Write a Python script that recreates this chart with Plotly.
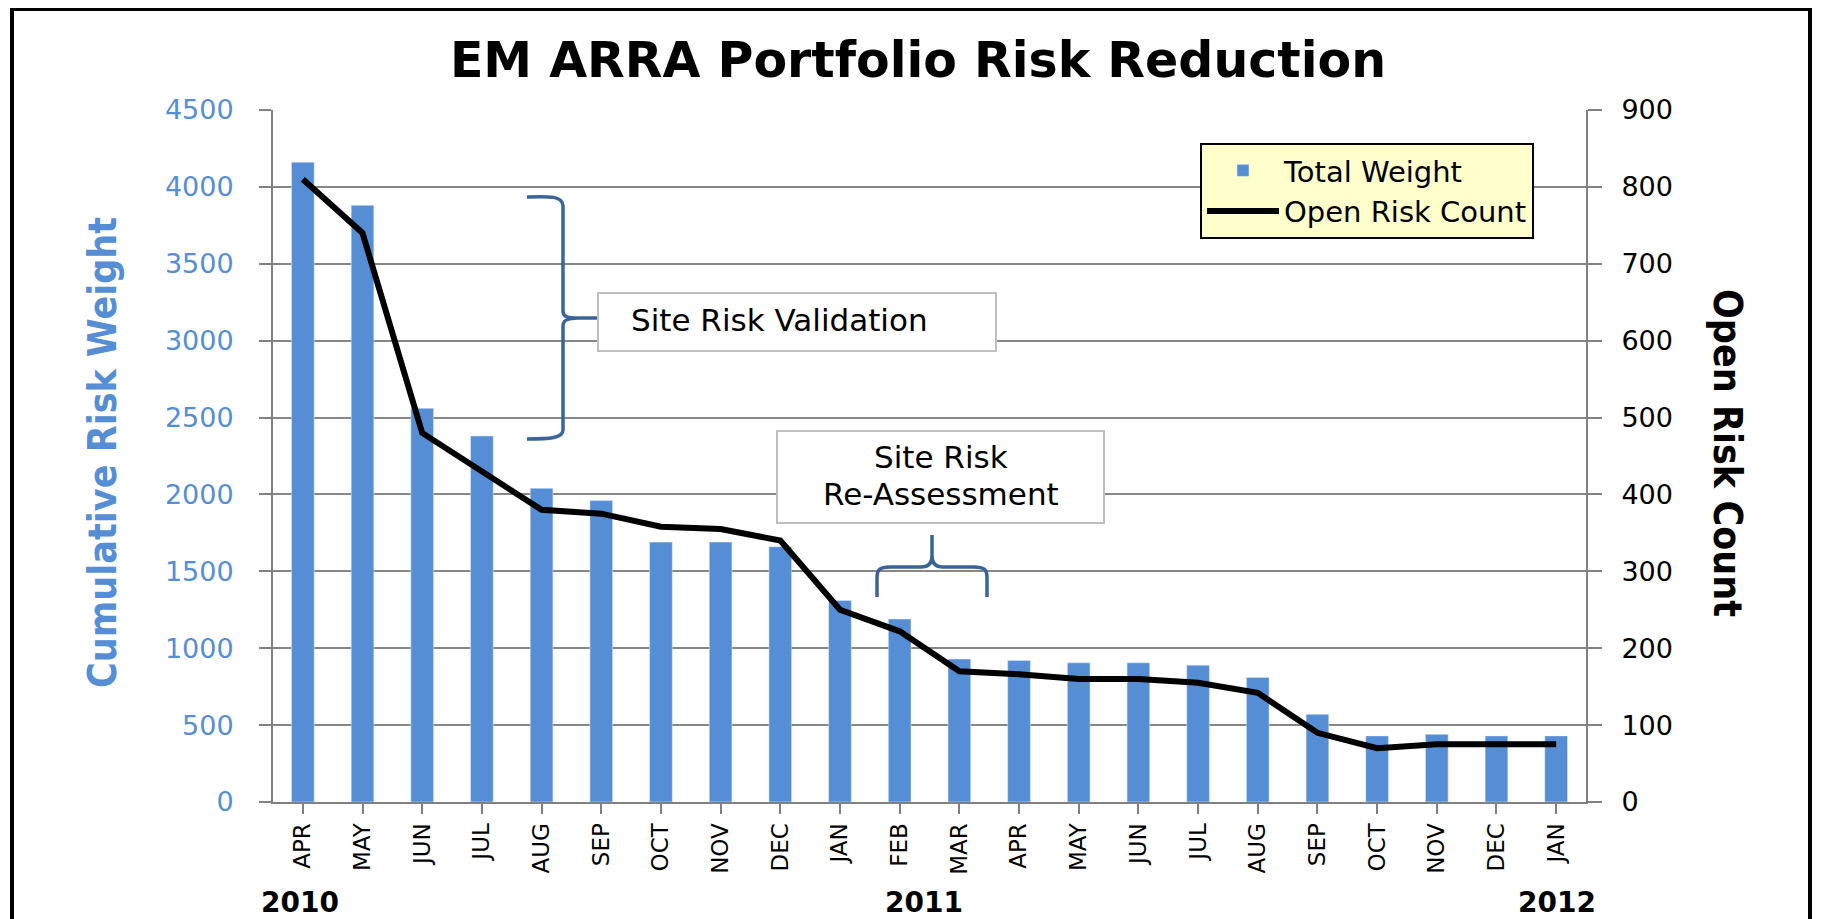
import plotly.graph_objects as go

months = ["APR", "MAY", "JUN", "JUL", "AUG", "SEP", "OCT", "NOV", "DEC", "JAN", "FEB",
          "MAR", "APR", "MAY", "JUN", "JUL", "AUG", "SEP", "OCT", "NOV", "DEC", "JAN"]
total_weight = [4160, 3880, 2560, 2380, 2040, 1960, 1690, 1690, 1660, 1310, 1190,
                930, 920, 905, 905, 890, 810, 570, 430, 440, 430, 430]
open_risk_count = [810, 740, 480, 430, 380, 375, 358, 355, 340, 250, 222,
                   170, 166, 160, 160, 155, 142, 90, 70, 75, 75, 75]
years = ["2010", "2011", "2012"]

OFF = 8  # page body margin
W, H = 1822 - OFF, 919 - OFF
L, R, T, B = 273, 1586, 110, 802  # plot area in screen pixels
BLUE = "#558ED5"
BRACE = "#3A6498"
NARROW = "DejaVu Sans Condensed, Liberation Sans Narrow, Arial Narrow, Roboto Condensed, Roboto, sans-serif"


def px(x):
    return (x - L) / (R - L)


def py(y):
    return (B - y) / (B - T)


def path(cmds):
    out = []
    for c in cmds:
        if isinstance(c, str):
            out.append(c)
        else:
            out.append(f"{px(c[0]):.5f},{py(c[1]):.5f}")
    return " ".join(out)


xs = list(range(len(months)))

fig = go.Figure()
fig.add_trace(go.Bar(x=xs, y=total_weight, name="Total Weight", marker_color=BLUE,
                     width=0.38, yaxis="y"))
fig.add_trace(go.Scatter(x=xs, y=open_risk_count, name="Open Risk Count", mode="lines",
                         line=dict(color="black", width=6), yaxis="y2"))

brace1 = path(["M", (527, 197), "C", (550, 196), (563, 196), (563, 206), "L", (563, 311),
               "C", (563, 317), (568, 318), (578, 318), "L", (598, 318),
               "M", (578, 318), "C", (568, 318), (563, 320), (563, 326), "L", (563, 430),
               "C", (563, 438), (550, 439), (527, 439)])
brace2 = path(["M", (877, 597), "L", (877, 578), "C", (877, 569), (880, 567), (890, 567),
               "L", (921, 567), "C", (929, 567), (932, 563), (932, 556), "L", (932, 535),
               "M", (932, 556), "C", (932, 563), (935, 567), (943, 567), "L", (974, 567),
               "C", (984, 567), (987, 569), (987, 578), "L", (987, 597)])


def box(x0, x1, y0, y1):
    return dict(type="rect", xref="paper", yref="paper", x0=px(x0), x1=px(x1),
                y0=py(y1), y1=py(y0), fillcolor="white",
                line=dict(color="#BFBFBF", width=2), layer="above")


shapes = [
    dict(type="path", xref="paper", yref="paper", path=brace1,
         line=dict(color=BRACE, width=3.5)),
    dict(type="path", xref="paper", yref="paper", path=brace2,
         line=dict(color=BRACE, width=3.5)),
    box(598, 996, 293, 351),
    box(777, 1104, 431, 523),
    dict(type="rect", xref="paper", yref="paper", x0=px(12), x1=px(1810), y0=py(9), y1=py(960),
         line=dict(color="black", width=4), layer="below"),
]

center = dict(xanchor="center", yanchor="middle", showarrow=False, xref="paper", yref="paper")
text_font = dict(family="DejaVu Sans", size=31, color="black")
annotations = [
    dict(text="<b>Cumulative Risk Weight</b>", x=px(102), y=py(453),
         textangle=-90, font=dict(family=NARROW, size=39, color=BLUE), **center),
    dict(text="<b>Open Risk Count</b>", x=px(1728), y=py(453),
         textangle=90, font=dict(family=NARROW, size=39, color="black"), **center),
    dict(text="Site Risk Validation", x=px(779), y=py(320), font=text_font, **center),
    dict(text="Site Risk", x=px(941), y=py(457), font=text_font, **center),
    dict(text="Re-Assessment", x=px(941), y=py(494), font=text_font, **center),
]
for label, xc in zip(years, [300, 924, 1557]):
    annotations.append(dict(text="<b>" + label + "</b>", x=px(xc), y=py(902),
                            font=dict(family="DejaVu Sans", size=28, color="black"), **center))

fig.update_layout(
    width=W, height=H,
    paper_bgcolor="white", plot_bgcolor="white",
    margin=dict(l=L - OFF, r=W - (R - OFF), t=T - OFF, b=H - (B - OFF)),
    title=dict(text="<b>EM ARRA Portfolio Risk Reduction</b>", x=(918 - OFF) / W,
               y=1 - (60 - OFF) / H, xanchor="center", yanchor="middle",
               font=dict(family="DejaVu Sans", size=49, color="black")),
    xaxis=dict(tickvals=xs, ticktext=months, tickangle=-90, range=[-0.5, len(xs) - 0.5],
               tickson="boundaries", ticks="outside", ticklen=10, tickwidth=2,
               tickcolor="#808080", showline=True, linecolor="#808080", linewidth=2,
               showgrid=False, tickfont=dict(family="DejaVu Sans", size=23, color="black")),
    yaxis=dict(range=[0, 4500], dtick=500, showgrid=True, gridcolor="#868686", gridwidth=2,
               showline=True, linecolor="#808080", linewidth=2, ticks="outside", ticklen=12,
               tickwidth=2, tickcolor="#808080", ticklabelstandoff=20, zeroline=False,
               tickfont=dict(family="DejaVu Sans", size=27, color=BLUE)),
    yaxis2=dict(range=[0, 900], dtick=100, overlaying="y", side="right", showgrid=False,
                showline=True, linecolor="#808080", linewidth=2, ticks="outside", ticklen=14,
                tickwidth=2, tickcolor="#808080", ticklabelstandoff=14, zeroline=False,
                tickfont=dict(family="DejaVu Sans", size=27, color="black")),
    legend=dict(x=px(1200), y=py(143), xanchor="left", yanchor="top",
                bgcolor="#FFFFCC", bordercolor="black", borderwidth=2, itemwidth=72,
                font=dict(family="DejaVu Sans", size=29, color="black")),
    showlegend=True,
    shapes=shapes,
    annotations=annotations,
)

fig.write_html("out.html")
